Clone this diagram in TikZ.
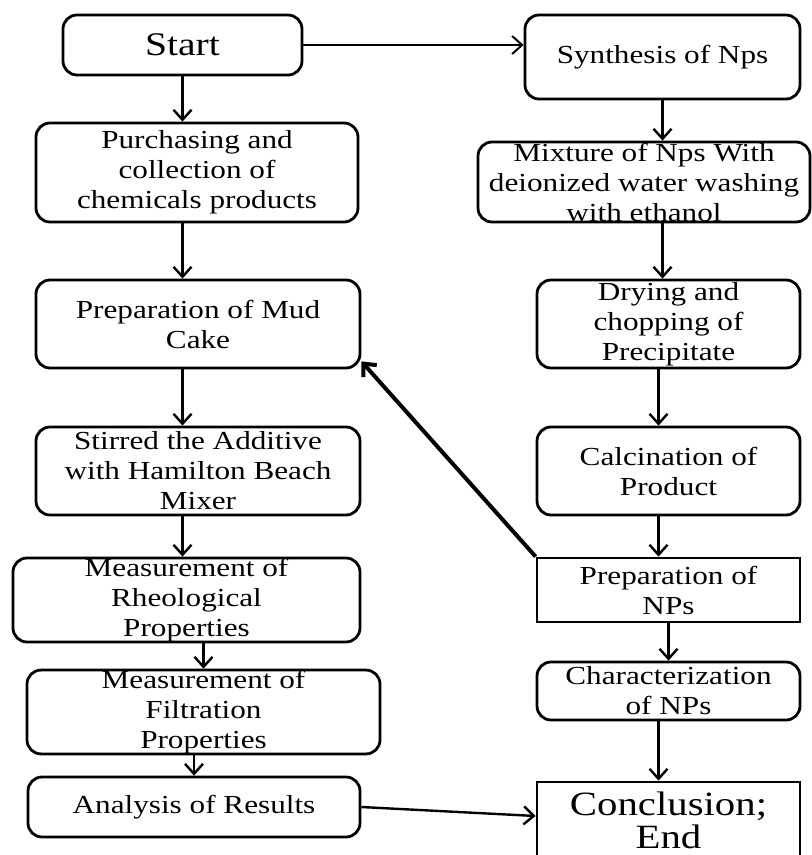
\documentclass[tikz,border=0pt]{standalone}
\usepackage{fontspec}
\setmainfont{Liberation Serif}[FakeStretch=1.2]
\usetikzlibrary{arrows.meta}
\tikzset{
    stepbox/.style={draw, line width=1.4pt, rounded corners=7pt, align=center, inner sep=0pt, font=\fontsize{13}{15}\selectfont},
    plainbox/.style={stepbox, sharp corners},
    flow/.style={line width=1.2pt, -{Straight Barb[length=5pt,width=9pt]}},
}

\begin{document}
\begin{tikzpicture}[x=0.5pt, y=-0.5pt]

    \useasboundingbox (0,0) rectangle (812,855);

    % left column
    \node[stepbox, minimum width=119.5pt, minimum height=30pt, font=\fontsize{16.5}{18}\selectfont] (start) at (182.5,45) {Start};
    \node[stepbox, minimum width=161pt, minimum height=49.5pt] (buy) at (197,172.5) {Purchasing and\\collection of\\chemicals products};
    \node[stepbox, minimum width=162pt, minimum height=44pt] (mud) at (198,324) {Preparation of Mud\\Cake};
    \node[stepbox, minimum width=162pt, minimum height=44pt] (stir) at (198,471) {Stirred the Additive\\with Hamilton Beach\\Mixer};
    \node[stepbox, minimum width=173.5pt, minimum height=42pt] (rheo) at (186.5,600) {Measurement of\\Rheological\\Properties};
    \node[stepbox, minimum width=176.5pt, minimum height=40pt] (filt) at (203.5,712) {Measurement of\\Filtration\\Properties};
    \node[stepbox, minimum width=166pt, minimum height=30pt] (res) at (194,807) {Analysis of Results};

    % right column
    \node[stepbox, minimum width=137.5pt, minimum height=42pt] (syn) at (662.5,57) {Synthesis of Nps};
    \node[stepbox, minimum width=166pt, minimum height=40pt] (mix) at (644,182) {Mixture of Nps With\\deionized water washing\\with ethanol};
    \node[stepbox, minimum width=131.5pt, minimum height=44pt] (dry) at (668.5,324) {Drying and\\chopping of\\Precipitate};
    \node[stepbox, minimum width=131.5pt, minimum height=44pt] (calc) at (668.5,471) {Calcination of\\Product};
    \node[plainbox, minimum width=131.5pt, minimum height=32pt] (prep) at (668.5,590) {Preparation of\\NPs};
    \node[stepbox, minimum width=131.5pt, minimum height=29pt] (char) at (668.5,691) {Characterization\\of NPs};
    \node[plainbox, minimum width=131.5pt, minimum height=38pt, font=\fontsize{17}{16.5}\selectfont] (concl) at (668.5,820) {Conclusion;\\End};

    % connectors
    \draw[flow, line width=1pt] (start.east) -- (start.east -| syn.west);
    \draw[flow] (start.south) -- (start |- buy.north);
    \draw[flow] (buy.south -| start) -- (mud.north -| start);
    \draw[flow] (mud.south -| start) -- (stir.north -| start);
    \draw[flow] (stir.south -| start) -- (rheo.north -| start);
    \draw[flow] (rheo.south -| filt) -- (filt.north);
    \draw[flow] (filt.south -| res) -- (res.north);
    \draw[flow] (res.east) -- ([yshift=2pt]concl.west);

    \draw[flow] (syn.south) -- (syn |- mix.north);
    \draw[flow] (mix.south -| syn) -- (dry.north -| syn);
    \draw[flow] ([xshift=-5pt]dry.south) -- ([xshift=-5pt]calc.north);
    \draw[flow] ([xshift=-5pt]calc.south) -- ([xshift=-5pt]prep.north);
    \draw[flow] (prep.south) -- (char.north);
    \draw[flow] ([xshift=-5pt]char.south) -- ([xshift=-5pt]concl.north);

    \draw[flow, line width=2pt] (prep.north west) -- ([yshift=4pt]mud.south east);

\end{tikzpicture}
\end{document}
